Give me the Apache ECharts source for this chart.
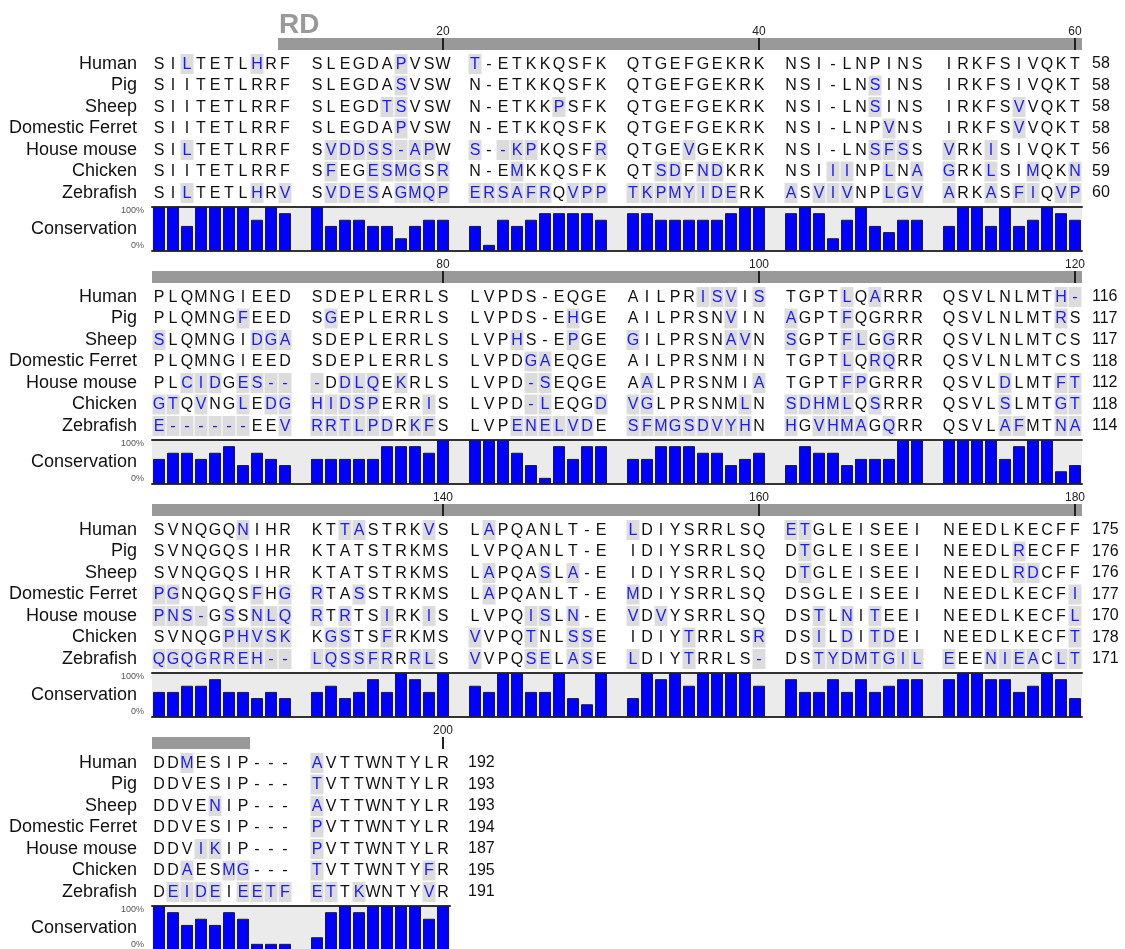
<!DOCTYPE html>
<html>
<head>
<meta charset="utf-8">
<script src="https://cdn.jsdelivr.net/npm/echarts@6/dist/echarts.min.js"></script>
<style>
html,body{margin:0;padding:0;background:#ffffff;}
#chart{width:1125px;height:949px;}
</style>
</head>
<body>
<div id="chart"></div>
<script>
// ---------------- DATA ----------------
const species = ['Human', 'Pig', 'Sheep', 'Domestic Ferret', 'House mouse', 'Chicken', 'Zebrafish'];

const seqHuman = 'SILTETLHRF SLEGDAPVSW T-ETKKQSFK QTGEFGEKRK NSI-LNPINS IRKFSIVQKT ' +
                 'PLQMNGIEED SDEPLERRLS LVPDS-EQGE AILPRISVIS TGPTLQARRR QSVLNLMTH- ' +
                 'SVNQGQNIHR KTTASTRKVS LAPQANLT-E LDIYSRRLSQ ETGLEISEEI NEEDLKECFF ' +
                 'DDMESIP--- AVTTWNTYLR';
const seqPig = 'SIITETLRRF SLEGDASVSW N-ETKKQSFK QTGEFGEKRK NSI-LNSINS IRKFSIVQKT ' +
               'PLQMNGFEED SGEPLERRLS LVPDS-EHGE AILPRSNVIN AGPTFQGRRR QSVLNLMTRS ' +
               'SVNQGQSIHR KTATSTRKMS LVPQANLT-E IDIYSRRLSQ DTGLEISEEI NEEDLRECFF ' +
               'DDVESIP--- TVTTWNTYLR';
const seqSheep = 'SIITETLRRF SLEGDTSVSW N-ETKKPSFK QTGEFGEKRK NSI-LNSINS IRKFSVVQKT ' +
                 'SLQMNGIDGA SDEPLERRLS LVPHS-EPGE GILPRSNAVN SGPTFLGGRR QSVLNLMTCS ' +
                 'SVNQGQSIHR KTATSTRKMS LAPQASLA-E IDIYSRRLSQ DTGLEISEEI NEEDLRDCFF ' +
                 'DDVENIP--- AVTTWNTYLR';
const seqFerret = 'SIITETLRRF SLEGDAPVSW N-ETKKQSFK QTGEFGEKRK NSI-LNPVNS IRKFSVVQKT ' +
                  'PLQMNGIEED SDEPLERRLS LVPDGAEQGE AILPRSNMIN TGPTLQRQRR QSVLNLMTCS ' +
                  'PGNQGQSFHG RTASSTRKMS LAPQANLT-E MDIYSRRLSQ DSGLEISEEI NEEDLKECFI ' +
                  'DDVESIP--- PVTTWNTYLR';
const seqMouse = 'SILTETLRRF SVDDSS-APW S--KPKQSFR QTGEVGEKRK NSI-LNSFSS VRKISIVQKT ' +
                 'PLCIDGES-- -DDLQEKRLS LVPD-SEQGE AALPRSNMIA TGPTFPGRRR QSVLDLMTFT ' +
                 'PNS-GSSNLQ RTRTSIRKIS LVPQISLN-E VDVYSRRLSQ DSTLNITEEI NEEDLKECFL ' +
                 'DDVIKIP--- PVTTWNTYLR';
const seqChicken = 'SIITETLRRF SFEGESMGSR N-EMKKQSFK QTSDFNDKRK NSIIINPLNA GRKLSIMQKN ' +
                   'GTQVNGLEDG HIDSPERRIS LVPD-LEQGD VGLPRSNMLN SDHMLQSRRR QSVLSLMTGT ' +
                   'SVNQGPHVSK KGSTSFRKMS VVPQTNLSSE IDIYTRRLSR DSILDITDEI NEEDLKECFT ' +
                   'DDAESMG--- TVTTWNTYFR';
const seqZebrafish = 'SILTETLHRV SVDESAGMQP ERSAFRQVPP TKPMYIDERK ASVIVNPLGV ARKASFIQVP ' +
                     'E------EEV RRTLPDRKFS LVPENELVDE SFMGSDVYHN HGVHMAGQRR QSVLAFMTNA ' +
                     'QGQGRREH-- LQSSFRRRLS VVPQSELASE LDIYTRRLS- DSTYDMTGIL EEENIEACLT ' +
                     'DEIDEIEETF ETTKWNTYVR';

// residue number at the end of each line, per block
const endNums1 = [58, 58, 58, 58, 56, 59, 60];
const endNums2 = [116, 117, 117, 118, 112, 118, 114];
const endNums3 = [175, 176, 176, 177, 170, 178, 171];
const endNums4 = [192, 193, 193, 194, 187, 195, 191];

// conservation (%) per alignment column, per block
const cons1 = [100,100,57,100,100,100,100,71,100,86, 100,57,71,71,57,57,29,57,71,71,
               57,14,71,57,71,86,86,86,86,71, 86,86,71,71,71,71,71,86,100,100,
               86,100,86,29,71,100,57,43,71,71, 57,100,100,57,100,57,71,100,86,71];
const cons2 = [57,71,71,57,71,86,43,71,57,43, 57,57,57,57,57,86,86,86,71,100,
               100,100,100,71,43,14,86,57,86,86, 57,57,86,86,86,71,71,43,57,71,
               43,86,71,71,43,57,57,57,100,100, 100,100,100,100,57,86,100,100,29,43];
const cons3 = [57,57,71,71,86,57,57,43,57,43, 57,71,43,57,86,57,100,86,57,100,
               71,57,100,100,57,57,100,43,29,100, 43,100,86,100,71,100,100,100,100,71,
               86,57,57,86,57,86,57,71,86,86, 86,100,100,86,86,57,71,100,86,43];
const cons4 = [100,86,57,71,57,86,71,14,14,14, 29,86,100,86,100,100,100,100,71,100];

// position ruler
const tickPositions = [20, 40, 60, 80, 100, 120, 140, 160, 180, 200];
const regionName = 'RD';
const regionStart = 10;
const regionEnd = 187;

// ---------------- BUILD ----------------
const FONT = 'Liberation Sans, Arial, Helvetica, sans-serif';
const seqs = [seqHuman, seqPig, seqSheep, seqFerret, seqMouse, seqChicken, seqZebrafish]
  .map(s => s.replace(/ /g, ''));
const endNums = [endNums1, endNums2, endNums3, endNums4];
const consAll = [cons1, cons2, cons3, cons4];
const total = seqs[0].length;
const BLOCK = 60;
const GAP = 18 / 14;             // group gap in column units
const COLW = 14, GAPW = 18;       // px
const BLOCK_PITCH = 233;

function colX(c) { return c + Math.floor(c / 10) * GAP + 0.5; }

// highlight residues that differ from the column consensus
const hl = seqs.map(() => []);
for (let p = 0; p < total; p++) {
  const cnt = {};
  seqs.forEach(s => { cnt[s[p]] = (cnt[s[p]] || 0) + 1; });
  let best = null, bestN = 0, tie = false;
  Object.keys(cnt).forEach(k => {
    if (cnt[k] > bestN) { best = k; bestN = cnt[k]; tie = false; }
    else if (cnt[k] === bestN) { tie = true; }
  });
  seqs.forEach((s, r) => { hl[r][p] = (tie || s[p] !== best) ? 1 : 0; });
}

const grids = [], xAxes = [], yAxes = [], series = [];
const nBlocks = Math.ceil(total / BLOCK);

for (let b = 0; b < nBlocks; b++) {
  const off = b * BLOCK_PITCH;
  const start = b * BLOCK;
  const ncols = Math.min(BLOCK, total - start);
  const ngroups = Math.ceil(ncols / 10);
  const xmax = ncols + (ngroups - 1) * GAP;
  const width = ncols * COLW + (ngroups - 1) * GAPW;

  const gR = grids.length;
  grids.push({ left: 152, top: 38 + off, width: width, height: 12, outerBoundsMode: 'none' });
  grids.push({ left: 152, top: 53.25 + off, width: width, height: 150.5, outerBoundsMode: 'none' });
  grids.push({ left: 152, top: 207 + off, width: width, height: 44, show: true,
               backgroundColor: '#ebebeb', borderWidth: 0, outerBoundsMode: 'none' });

  const xR = xAxes.length;
  xAxes.push({ type: 'value', gridIndex: gR, min: 0, max: xmax, show: false });
  xAxes.push({ type: 'value', gridIndex: gR + 1, min: 0, max: xmax, show: false });
  const hiddenBits = { axisTick: { show: false }, axisLabel: { show: false }, splitLine: { show: false } };
  xAxes.push(Object.assign({ type: 'value', gridIndex: gR + 2, min: 0, max: xmax, position: 'bottom',
    axisLine: { show: true, onZero: false, lineStyle: { color: '#333', width: 2 } } }, hiddenBits));
  xAxes.push(Object.assign({ type: 'value', gridIndex: gR + 2, min: 0, max: xmax, position: 'top',
    axisLine: { show: true, onZero: false, lineStyle: { color: '#333', width: 2 } } }, hiddenBits));

  const yR = yAxes.length;
  yAxes.push({ type: 'value', gridIndex: gR, min: 0, max: 1, show: false });
  yAxes.push({ type: 'category', gridIndex: gR + 1, data: species, inverse: true, position: 'left',
    axisLine: { show: false }, axisTick: { show: false }, splitLine: { show: false },
    axisLabel: { interval: 0, fontSize: 18, color: '#111', margin: 15, fontFamily: FONT } });
  yAxes.push({ type: 'category', gridIndex: gR + 1, data: species, inverse: true, position: 'right',
    axisLine: { show: false }, axisTick: { show: false }, splitLine: { show: false },
    axisLabel: { interval: 0, fontSize: 16, color: '#111', margin: b === nBlocks - 1 ? 18 : 10, fontFamily: FONT,
      formatter: (v, i) => String(endNums[b][i]) } });
  yAxes.push({ type: 'value', gridIndex: gR + 2, min: 0, max: 100, interval: 100, position: 'left',
    axisLine: { show: false }, axisTick: { show: false }, splitLine: { show: false },
    axisLabel: { margin: 8, fontFamily: FONT,
      formatter: v => v === 100 ? '{t|100%}' : '{b|0%}',
      rich: { t: { fontSize: 9, color: '#555', fontFamily: FONT, padding: [8, 0, 0, 0] },
              b: { fontSize: 9, color: '#555', fontFamily: FONT, padding: [0, 0, 10, 0] } } } });
  yAxes.push({ type: 'category', gridIndex: gR + 2, data: ['Conservation'], position: 'left',
    axisLine: { show: false }, axisTick: { show: false }, splitLine: { show: false },
    axisLabel: { interval: 0, fontSize: 18, color: '#111', margin: 15, fontFamily: FONT } });

  // region bar
  const s = Math.max(regionStart, start + 1), e = Math.min(regionEnd, start + ncols);
  if (s <= e) {
    const isFirst = regionStart >= start + 1 && regionStart <= start + ncols;
    series.push({
      type: 'custom', xAxisIndex: xR, yAxisIndex: yR, silent: true,
      data: [[colX(s - start - 1) - 0.5, colX(e - start - 1) + 0.5]],
      renderItem: (params, api) => {
        const p0 = api.coord([api.value(0), 1]);
        const p1 = api.coord([api.value(1), 0]);
        const children = [{ type: 'rect', shape: { x: p0[0], y: p0[1], width: p1[0] - p0[0], height: p1[1] - p0[1] },
          style: { fill: '#999999' } }];
        if (isFirst) {
          children.push({ type: 'text', x: p0[0] + 1, y: p0[1] + 1,
            style: { text: regionName, fill: '#999999', fontSize: 28, fontWeight: 'bold', fontFamily: FONT,
                     align: 'left', verticalAlign: 'bottom' } });
        }
        return { type: 'group', children };
      }
    });
  }

  // ticks
  const ticks = tickPositions.filter(t => t > start && t <= start + ncols);
  series.push({
    type: 'custom', xAxisIndex: xR, yAxisIndex: yR, silent: true,
    data: ticks.map(t => [colX(t - start - 1), t]),
    renderItem: (params, api) => {
      const pt = api.coord([api.value(0), 1]);
      const pb = api.coord([api.value(0), 0]);
      return { type: 'group', children: [
        { type: 'line', shape: { x1: pt[0], y1: pt[1], x2: pb[0], y2: pb[1] }, style: { stroke: '#222', lineWidth: 2 } },
        { type: 'text', x: pt[0], y: pt[1] - 0.5,
          style: { text: String(ticks[params.dataIndex]), fill: '#222', fontSize: 12, fontFamily: FONT,
                   align: 'center', verticalAlign: 'bottom' } }
      ] };
    }
  });

  // residues
  const cells = [], cellChars = [], cellHl = [];
  for (let r = 0; r < seqs.length; r++) {
    for (let c = 0; c < ncols; c++) {
      cells.push([colX(c), r]);
      cellChars.push(seqs[r][start + c]);
      cellHl.push(hl[r][start + c]);
    }
  }
  series.push({
    type: 'custom', xAxisIndex: xR + 1, yAxisIndex: yR + 1, silent: true,
    data: cells,
    renderItem: (params, api) => {
      const p = api.coord([api.value(0), api.value(1)]);
      const sz = api.size([1, 1]);
      const h = cellHl[params.dataIndex];
      const children = [];
      if (h) {
        children.push({ type: 'rect',
          shape: { x: p[0] - sz[0] / 2 + 0.5, y: p[1] - sz[1] / 2 + 0.75, width: sz[0] - 1, height: sz[1] - 1.5 },
          style: { fill: '#dcdcdc' } });
      }
      children.push({ type: 'text', x: p[0], y: p[1] + 0.5,
        style: { text: cellChars[params.dataIndex], fill: h ? '#1a1aff' : '#111111', fontSize: 16,
                 fontFamily: FONT, align: 'center', verticalAlign: 'middle' } });
      return { type: 'group', children };
    }
  });

  // conservation bars
  series.push({
    type: 'bar', xAxisIndex: xR + 2, yAxisIndex: yR + 3, silent: true,
    barWidth: 12,
    data: consAll[b].map((v, c) => [colX(c), v]),
    itemStyle: { color: '#0000ff', borderColor: '#1a1a3a', borderWidth: 1 }
  });
}

const chart = echarts.init(document.getElementById('chart'), null, { renderer: 'canvas' });
chart.setOption({
  animation: false,
  backgroundColor: '#ffffff',
  textStyle: { fontFamily: FONT },
  grid: grids,
  xAxis: xAxes,
  yAxis: yAxes,
  series: series
});
</script>
</body>
</html>
